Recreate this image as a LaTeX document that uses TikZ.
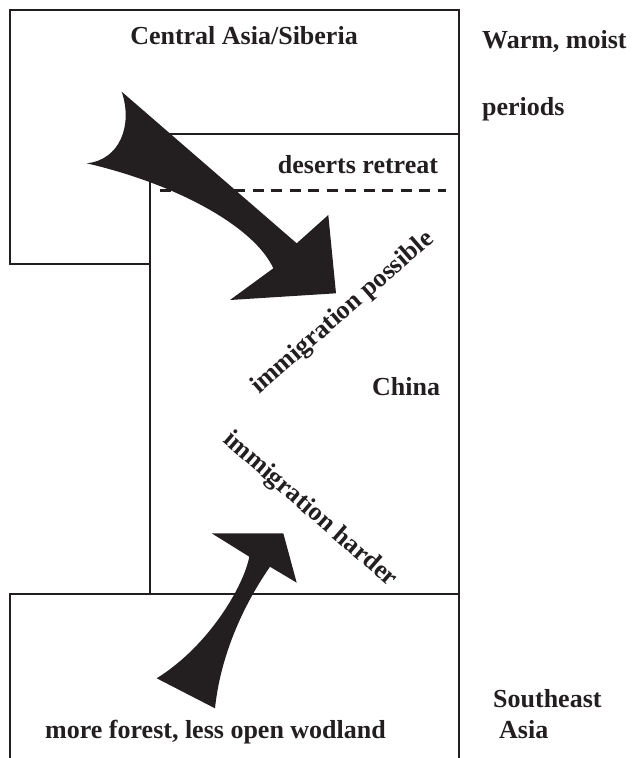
\documentclass[tikz,border=0pt]{standalone}
\usepackage{fontspec}
\setmainfont{Liberation Serif}
\definecolor{ink}{RGB}{35,31,32}
\tikzset{
  box/.style={draw=ink, line width=1.7pt, anchor=north west, inner sep=0pt, outer sep=0pt},
  lbl/.style={font=\bfseries\fontsize{26}{30}\selectfont, text=ink, inner sep=0pt},
  arrowshape/.style={fill=ink, draw=none},
  dashline/.style={draw=ink, line width=3pt, dash pattern=on 11pt off 7.5pt}
}
\begin{document}
\begin{tikzpicture}[x=1pt,y=-1pt]
\useasboundingbox (0,0) rectangle (633,758);
\clip (0,0) rectangle (633,758);
% boxes
\node[box, minimum width=449pt, minimum height=254pt] (asia) at (10,10) {};
\node[box, fill=white, minimum width=309pt, minimum height=460pt] (china) at (150,134) {};
\node[box, minimum width=449pt, minimum height=200pt] (sea) at (10,594) {};
% dashed desert limit
\coordinate (dl) at (160,190);
\coordinate (dr) at (446,190);
\draw[dashline] (dl) -- (dr);
% arrows
\fill[arrowshape] (121.7,91.7) -- (296.7,243.3) -- (328.3,215) -- (336,293.3) -- (230,300) -- (273.3,268.3)
  .. controls (255,228) and (180,185) .. (86.7,163.3)
  .. controls (120,160) and (133,125) .. (121.7,91.7) -- cycle;
\fill[arrowshape] (283.3,533.3) -- (211.7,533.3) -- (249.3,556.7)
  .. controls (244,585) and (210,645) .. (156.7,678.3) -- (215,708.3)
  .. controls (220,660) and (240,610) .. (270,566.7) -- (296.7,582.7) -- cycle;
% labels
\node[lbl, anchor=base] (ca) at (244,44) {Central Asia/Siberia};
\node[lbl, anchor=base west] (warm) at (482,48) {Warm, moist};
\node[lbl, anchor=base west] (per) at (482,115) {periods};
\node[lbl, anchor=base] (des) at (358,173) {deserts retreat};
\node[lbl, anchor=base west] (chn) at (372,395) {China};
\node[lbl, rotate=41] (ip) at (343,313) {immigration possible};
\node[lbl, rotate=-41] (ih) at (310,510) {immigration harder};
\node[lbl, anchor=base west] (mf) at (45,738) {more forest, less open wodland};
\node[lbl, anchor=base west] (se) at (493,707) {Southeast};
\node[lbl, anchor=base west] (as) at (499,738) {Asia};
\end{tikzpicture}
\end{document}
